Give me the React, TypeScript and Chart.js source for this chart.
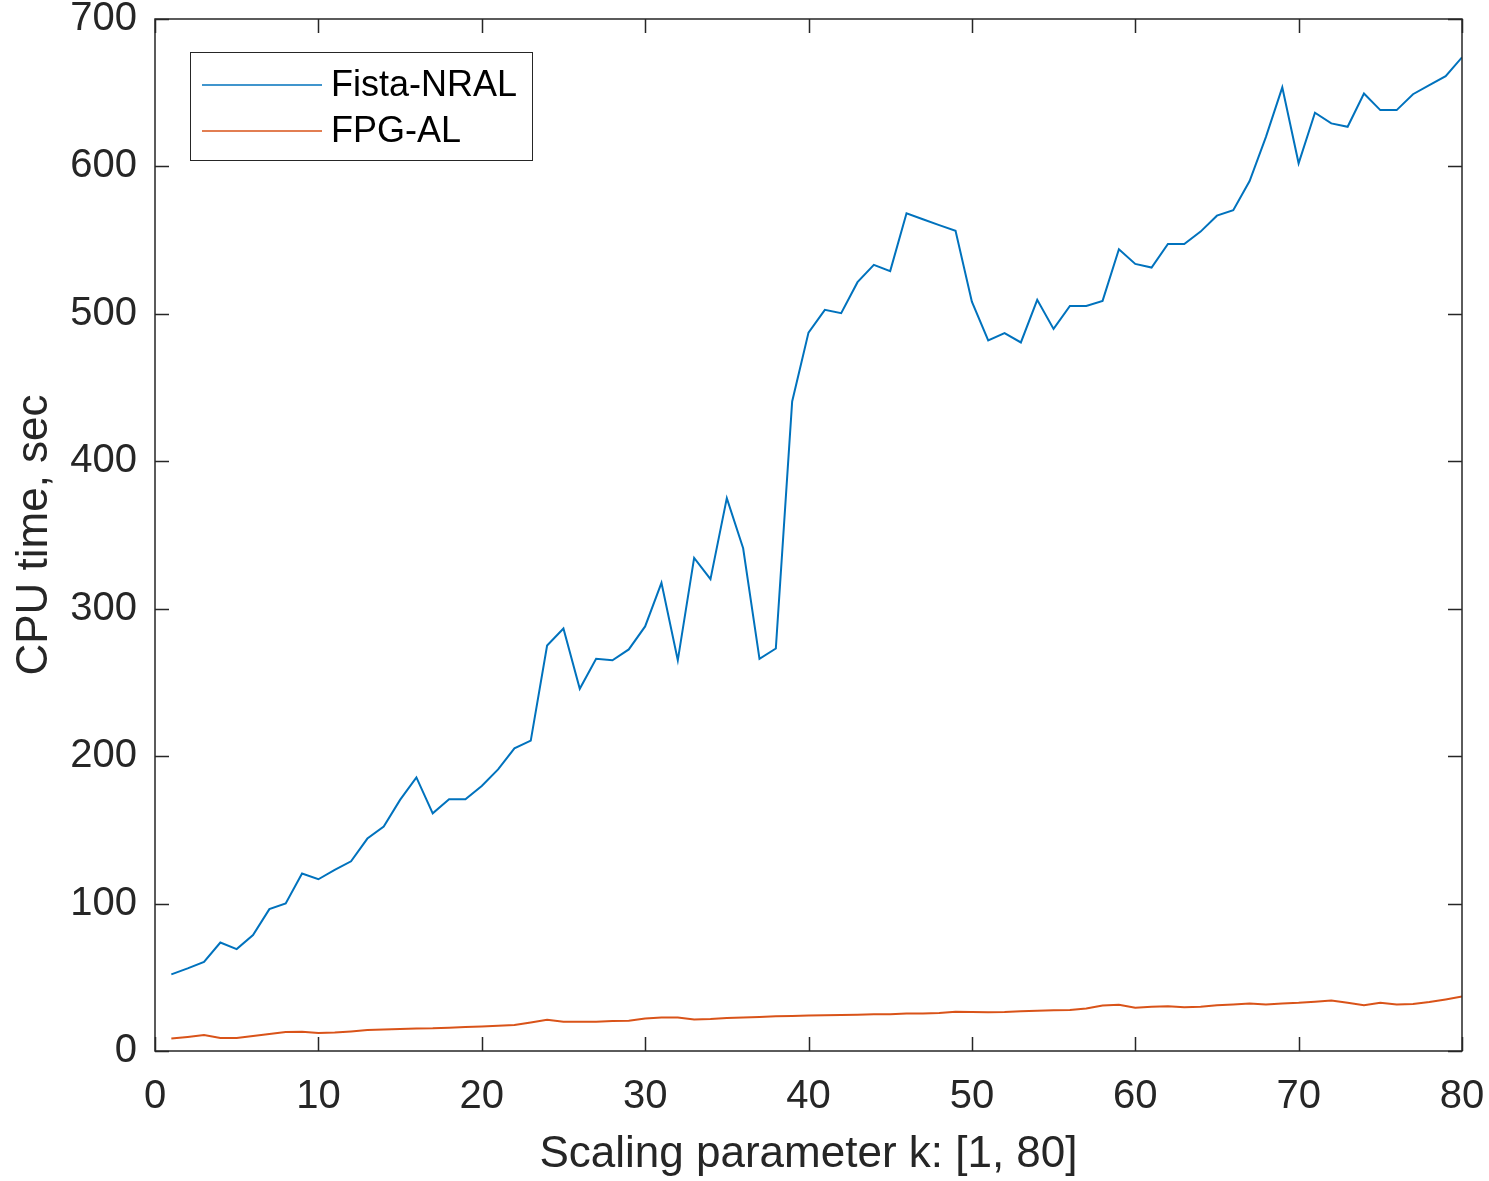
import React, { useEffect, useRef } from 'react';
import { Chart, registerables } from 'chart.js';

Chart.register(...registerables);

const kValues = [
  1, 2, 3, 4, 5, 6, 7, 8, 9, 10, 11, 12, 13, 14, 15, 16, 17, 18, 19, 20,
  21, 22, 23, 24, 25, 26, 27, 28, 29, 30, 31, 32, 33, 34, 35, 36, 37, 38, 39, 40,
  41, 42, 43, 44, 45, 46, 47, 48, 49, 50, 51, 52, 53, 54, 55, 56, 57, 58, 59, 60,
  61, 62, 63, 64, 65, 66, 67, 68, 69, 70, 71, 72, 73, 74, 75, 76, 77, 78, 79, 80,
];

const fistaNral = [
  52, 56, 60.5, 73.6, 69.1, 78.6, 96.2, 100.1, 120.4, 116.5,
  122.8, 128.7, 144.1, 152.2, 170.3, 185.6, 161.2, 170.7, 170.7, 179.7,
  191, 205.3, 210.5, 275, 286.6, 245.7, 266, 265, 272.4, 288,
  317.5, 265, 334.5, 320, 375, 341, 266, 273, 440.6, 487.3,
  502.7, 500.5, 521.5, 533.2, 529, 568.2, 564.2, 560.2, 556.4, 508.3,
  482, 487, 480.6, 509.5, 489.8, 505.4, 505.4, 508.8, 543.8, 533.9,
  531.4, 547.4, 547.4, 555.8, 566.6, 570.3, 590.1, 620.1, 653.6, 602.1,
  636.4, 629.2, 626.9, 649.5, 638.2, 638.2, 649, 655.1, 661.2, 674,
];

const fpgAl = [
  8.4, 9.5, 10.8, 8.8, 8.9, 10.2, 11.5, 12.9, 13.1, 12.2,
  12.6, 13.3, 14.2, 14.6, 14.9, 15.3, 15.4, 15.8, 16.3, 16.7,
  17.2, 17.6, 19.4, 21.2, 19.9, 19.9, 19.9, 20.3, 20.5, 22.1,
  22.8, 22.8, 21.4, 21.7, 22.4, 22.8, 23.1, 23.5, 23.7, 24.0,
  24.2, 24.4, 24.6, 24.9, 24.9, 25.5, 25.5, 25.8, 26.7, 26.4,
  26.2, 26.4, 26.9, 27.3, 27.6, 27.8, 28.9, 30.9, 31.4, 29.4,
  30.0, 30.3, 29.6, 30.0, 31.0, 31.6, 32.2, 31.6, 32.3, 32.7,
  33.4, 34.3, 32.7, 31.0, 32.7, 31.6, 31.9, 33.2, 35.0, 37.0,
];

const xTicks = [0, 10, 20, 30, 40, 50, 60, 70, 80];
const yTicks = [0, 100, 200, 300, 400, 500, 600, 700];
const seriesLabels = ['Fista-NRAL', 'FPG-AL'];
const seriesColors = ['#0072BD', '#D95319'];
const xTitle = 'Scaling parameter k: [1, 80]';
const yTitle = 'CPU time, sec';

const W = 1489;
const H = 1181;
const FONT = "'Liberation Sans', Arial, Helvetica, sans-serif";
const INK = '#262626';
const TICK_LEN = 14;

const framePlugin = {
  id: 'matlabFrame',
  afterDraw(chart: any) {
    const { ctx, chartArea: ca, scales } = chart;
    const xs = scales.x;
    const ys = scales.y;
    ctx.save();
    ctx.strokeStyle = INK;
    ctx.lineWidth = 1.5;
    ctx.strokeRect(ca.left, ca.top, ca.right - ca.left, ca.bottom - ca.top);
    ctx.beginPath();
    xTicks.forEach((v) => {
      const px = Math.round(xs.getPixelForValue(v)) + 0.5;
      ctx.moveTo(px, ca.bottom);
      ctx.lineTo(px, ca.bottom - TICK_LEN);
      ctx.moveTo(px, ca.top);
      ctx.lineTo(px, ca.top + TICK_LEN);
    });
    yTicks.forEach((v) => {
      const py = Math.round(ys.getPixelForValue(v)) + 0.5;
      ctx.moveTo(ca.left, py);
      ctx.lineTo(ca.left + TICK_LEN, py);
      ctx.moveTo(ca.right, py);
      ctx.lineTo(ca.right - TICK_LEN, py);
    });
    ctx.stroke();

    // legend
    const lx = ca.left + 35;
    const ly = ca.top + 33;
    const lw = 342;
    const lh = 108;
    ctx.fillStyle = '#ffffff';
    ctx.fillRect(lx, ly, lw, lh);
    ctx.lineWidth = 1;
    ctx.strokeStyle = INK;
    ctx.strokeRect(lx + 0.5, ly + 0.5, lw, lh);
    chart.data.datasets.forEach((ds: any, i: number) => {
      const cy = ly + 33 + i * 46;
      ctx.strokeStyle = ds.borderColor;
      ctx.lineWidth = 1.5;
      ctx.beginPath();
      ctx.moveTo(lx + 12, cy);
      ctx.lineTo(lx + 132, cy);
      ctx.stroke();
      ctx.fillStyle = '#000000';
      ctx.font = `36px ${FONT}`;
      ctx.textBaseline = 'middle';
      ctx.textAlign = 'left';
      ctx.fillText(ds.label, lx + 141, cy + 1);
    });
    ctx.restore();
  },
};

export default function App() {
  const canvasRef = useRef<HTMLCanvasElement | null>(null);

  useEffect(() => {
    const canvas = canvasRef.current;
    if (!canvas) return;
    const chart = new Chart(canvas, {
      type: 'line',
      data: {
        datasets: [
          {
            label: seriesLabels[0],
            data: kValues.map((k, i) => ({ x: k, y: fistaNral[i] })),
            borderColor: seriesColors[0],
            backgroundColor: seriesColors[0],
            borderWidth: 2,
            pointRadius: 0,
            tension: 0,
          },
          {
            label: seriesLabels[1],
            data: kValues.map((k, i) => ({ x: k, y: fpgAl[i] })),
            borderColor: seriesColors[1],
            backgroundColor: seriesColors[1],
            borderWidth: 2,
            pointRadius: 0,
            tension: 0,
          },
        ],
      },
      options: {
        responsive: false,
        animation: false,
        devicePixelRatio: 1,
        layout: { padding: { left: 0, top: 19, right: 27, bottom: 0 } },
        plugins: {
          legend: { display: false },
          tooltip: { enabled: false },
        },
        scales: {
          x: {
            type: 'linear',
            min: 0,
            max: 80,
            afterBuildTicks: (s: any) => {
              s.ticks = xTicks.map((v) => ({ value: v }));
            },
            afterFit: (s: any) => {
              s.height = 130;
              s.paddingLeft = 0;
              s.paddingRight = 0;
              s.paddingTop = 0;
              s.paddingBottom = 0;
            },
            grid: { display: false, drawTicks: false },
            border: { display: false },
            ticks: {
              color: INK,
              font: { family: FONT, size: 40, lineHeight: 1 },
              padding: 26,
              maxRotation: 0,
              autoSkip: false,
            },
            title: {
              display: true,
              text: xTitle,
              color: INK,
              font: { family: FONT, size: 44, lineHeight: 1.2 },
              padding: { top: 0, bottom: 0 },
            },
          },
          y: {
            type: 'linear',
            min: 0,
            max: 700,
            afterBuildTicks: (s: any) => {
              s.ticks = yTicks.map((v) => ({ value: v }));
            },
            afterFit: (s: any) => {
              s.width = 155;
              s.paddingLeft = 0;
              s.paddingRight = 0;
              s.paddingTop = 0;
              s.paddingBottom = 0;
            },
            grid: { display: false, drawTicks: false },
            border: { display: false },
            ticks: {
              color: INK,
              font: { family: FONT, size: 40, lineHeight: 1 },
              padding: 18,
              autoSkip: false,
            },
            title: {
              display: true,
              text: yTitle,
              color: INK,
              font: { family: FONT, size: 44, lineHeight: 1.2 },
              padding: { top: 8, bottom: 0 },
            },
          },
        },
      },
      plugins: [framePlugin],
    } as any);
    return () => chart.destroy();
  }, []);

  return (
    <div style={{ position: 'absolute', left: 0, top: 0, width: W, height: H, background: '#ffffff' }}>
      <canvas ref={canvasRef} width={W} height={H} style={{ display: 'block', width: W, height: H }} />
    </div>
  );
}
